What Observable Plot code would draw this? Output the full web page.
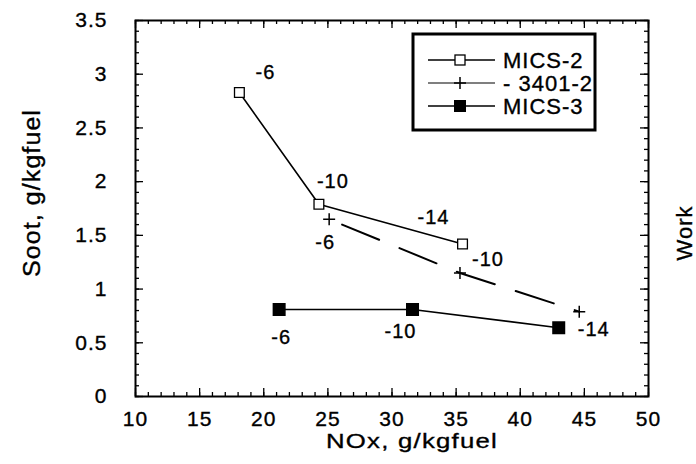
<!DOCTYPE html>
<html><head><meta charset="utf-8">
<script src="https://cdn.jsdelivr.net/npm/d3@7"></script>
<script src="https://cdn.jsdelivr.net/npm/@observablehq/plot@0.6"></script>
<style>
body{margin:0;background:#fff}
#chart{width:696px;height:464px}
#chart svg text{stroke:black;stroke-width:0.35px;letter-spacing:1px}
</style>
</head><body><div id="chart"></div>
<script>
// ---- data ----
const seriesNames = ["MICS-2", "3401-2", "MICS-3"];
const legendLabels = ["MICS-2", "- 3401-2", "MICS-3"];
const mics2X = [18.1, 24.3, 35.5];
const mics2Y = [2.83, 1.79, 1.42];
const e3401X = [25.1, 35.3, 44.6];
const e3401Y = [1.65, 1.15, 0.79];
const mics3X = [21.2, 31.6, 43.0];
const mics3Y = [0.81, 0.81, 0.64];
const timingLabels = ["-6", "-10", "-14"];
const xTicks = [10, 15, 20, 25, 30, 35, 40, 45, 50];
const yTicks = [0, 0.5, 1, 1.5, 2, 2.5, 3, 3.5];
const yTickLabels = ["0", "0.5", "1", "1.5", "2", "2.5", "3", "3.5"];
const xMinor = d3.range(10, 50.001, 1);
const yMinor = d3.range(0, 3.5001, 0.1);
const xTitle = "NOx, g/kgfuel";
const yTitle = "Soot, g/kgfuel";
const rightTitle = "Work";

const rows = (name, xs, ys) => xs.map((x, i) => ({series: name, x, y: ys[i], label: timingLabels[i]}));
const mics2 = rows(seriesNames[0], mics2X, mics2Y);
const e3401 = rows(seriesNames[1], e3401X, e3401Y);
const mics3 = rows(seriesNames[2], mics3X, mics3Y);

// ---- layout ----
const W = 696, H = 464;
const mL = 135, mR = 48, mT = 20, mB = 68;
const pw = W - mL - mR, ph = H - mT - mB;
const FONT = "'Liberation Sans', Arial, Helvetica, sans-serif";

const plusSymbol = {
  draw(ctx, size) {
    const r = Math.sqrt(size / Math.PI);
    ctx.moveTo(-r, 0); ctx.lineTo(r, 0);
    ctx.moveTo(0, -r); ctx.lineTo(0, r);
  }
};

const labelMark = (data, i, dx, dy) =>
  Plot.text([data[i]], {x: "x", y: "y", text: "label", dx, dy, fontSize: 20, fill: "black", fontFamily: FONT});

const ticks = [];
for (const [vals, len] of [[xMinor, 4], [xTicks, 8]]) {
  ticks.push(Plot.tickX(vals, {x: d => d, insetTop: ph - len, stroke: "black", strokeWidth: 1.3}));
  ticks.push(Plot.tickX(vals, {x: d => d, insetBottom: ph - len, stroke: "black", strokeWidth: 1.3}));
}
for (const [vals, len] of [[yMinor, 4], [yTicks, 8]]) {
  ticks.push(Plot.tickY(vals, {y: d => d, insetRight: pw - len, stroke: "black", strokeWidth: 1.3}));
  ticks.push(Plot.tickY(vals, {y: d => d, insetLeft: pw - len, stroke: "black", strokeWidth: 1.3}));
}

const chart = Plot.plot({
  width: W, height: H,
  marginLeft: mL, marginRight: mR, marginTop: mT, marginBottom: mB,
  style: {fontFamily: FONT, background: "white", color: "black"},
  x: {domain: [10, 50]},
  y: {domain: [0, 3.5]},
  marks: [
    ...ticks,
    Plot.frame({stroke: "black", strokeWidth: 2}),
    Plot.axisX(xTicks, {tickSize: 0, tickPadding: 15, fontSize: 21, label: null, tickFormat: d => String(d)}),
    Plot.axisY(yTicks, {tickSize: 0, tickPadding: 28, fontSize: 21, label: null, tickFormat: (d, i) => yTickLabels[i]}),
    Plot.line(mics2, {x: "x", y: "y", stroke: "black", strokeWidth: 1.6}),
    Plot.line(e3401, {x: "x", y: "y", stroke: "black", strokeWidth: 2, strokeDasharray: "40,22", strokeDashoffset: -14}),
    Plot.line(mics3, {x: "x", y: "y", stroke: "black", strokeWidth: 1.6}),
    Plot.dot(mics2, {x: "x", y: "y", symbol: "square", r: 5.5, fill: "white", stroke: "black", strokeWidth: 1.3}),
    Plot.dot(e3401, {x: "x", y: "y", symbol: plusSymbol, r: 6, fill: "none", stroke: "black", strokeWidth: 1.5}),
    Plot.dot(mics3, {x: "x", y: "y", symbol: "square", r: 6.5, fill: "black", stroke: "black"}),
    labelMark(mics2, 0, 26, -20),
    labelMark(mics2, 1, 14, -23),
    labelMark(mics2, 2, -29, -26),
    labelMark(e3401, 0, -4, 23),
    labelMark(e3401, 1, 28, -13),
    labelMark(mics3, 0, 2, 28),
    labelMark(mics3, 1, -12, 22),
    labelMark(mics3, 2, 35, 2)
  ]
});
document.getElementById("chart").appendChild(chart);

// ---- titles and legend (non-data decoration) ----
const svg = d3.select(chart);
svg.append("text").attr("x", 412).attr("y", 448).attr("text-anchor", "middle")
  .attr("font-size", 21).attr("font-family", FONT).attr("fill", "black")
  .attr("textLength", 172).attr("lengthAdjust", "spacingAndGlyphs").text(xTitle);
svg.append("text").attr("transform", `translate(40,193) rotate(-90)`).attr("text-anchor", "middle")
  .attr("font-size", 23).attr("font-family", FONT).attr("fill", "black")
  .attr("textLength", 168).attr("lengthAdjust", "spacingAndGlyphs").text(yTitle);
svg.append("text").attr("transform", `translate(692,233) rotate(-90)`).attr("text-anchor", "middle")
  .attr("font-size", 22).attr("font-family", FONT).attr("fill", "black").text(rightTitle);

const lg = svg.append("g");
lg.append("rect").attr("x", 413).attr("y", 34).attr("width", 182).attr("height", 96)
  .attr("fill", "white").attr("stroke", "black").attr("stroke-width", 3);
const rowsY = [60, 83, 106];
legendLabels.forEach((lab, i) => {
  const y = rowsY[i];
  lg.append("line").attr("x1", 428).attr("x2", 495).attr("y1", y).attr("y2", y)
    .attr("stroke", "black").attr("stroke-width", i === 1 ? 1.2 : 1.6);
  if (i === 0) lg.append("rect").attr("x", 455).attr("y", y - 5).attr("width", 10).attr("height", 10)
    .attr("fill", "white").attr("stroke", "black").attr("stroke-width", 1.3);
  if (i === 1) lg.append("path").attr("d", `M${454},${y}h12M${460},${y - 6}v12`).attr("stroke", "black").attr("stroke-width", 1.5);
  if (i === 2) lg.append("rect").attr("x", 454).attr("y", y - 6).attr("width", 12).attr("height", 12).attr("fill", "black");
  lg.append("text").attr("x", 503).attr("y", y).attr("dy", "0.35em").attr("text-anchor", "start")
    .attr("font-size", 22).attr("font-family", FONT).attr("fill", "black").text(lab);
});
</script>
</body></html>
